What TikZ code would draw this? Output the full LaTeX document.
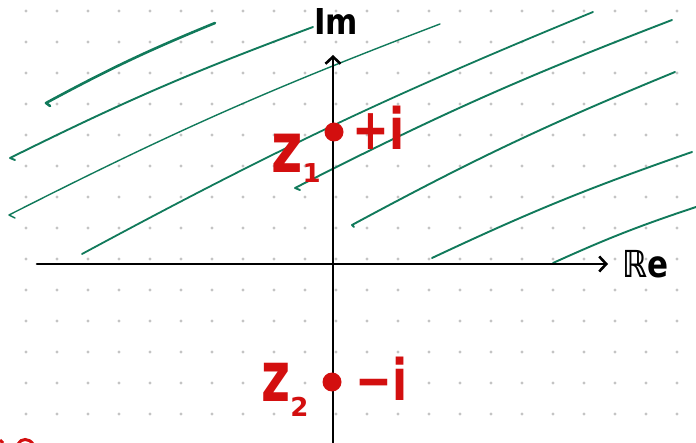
\documentclass[tikz,border=0pt]{standalone}
\usepackage{fontspec}
\setmainfont{DejaVu Sans}
\usetikzlibrary{arrows.meta, positioning}
\definecolor{hatchgreen}{HTML}{117A5B}
\definecolor{pointred}{HTML}{D30F0F}
\definecolor{dotgrey}{HTML}{C4C4C4}

\begin{document}
\begin{tikzpicture}[x=1pt, y=-1pt,
  hatch/.style={hatchgreen, line cap=round, line join=round},
  axis/.style={black, line width=2.6pt, line cap=round,
    -{Straight Barb[length=7pt, width=15pt, line width=2.6pt]}},
  redpt/.style={circle, fill=pointred, inner sep=0pt, minimum size=19pt},
  redlab/.style={anchor=base west, inner sep=0pt, text=pointred,
    font=\fontsize{44}{44}\selectfont\bfseries},
  axislab/.style={anchor=base west, inner sep=0pt,
    font=\fontsize{31}{31}\selectfont\bfseries}]
  \useasboundingbox (0,0) rectangle (696,443);
  \foreach \i in {0,...,21}{%
    \foreach \j in {0,...,13}{%
      \fill[dotgrey] (26+31*\i,11+31*\j) circle (1.6);}}
  \foreach \sx/\sy/\ex/\ey/\hx/\hy/\w in {46/103/215/23/4/3/2.6,
      10/158/313/27/5/2/1.9, 9/215/440/24/6/3/1.4, 82/254/593/12/0/0/1.8,
      295/188/672/20/5/2/1.9, 352/225/675/72/2/2/1.9,
      432/258/692/152/0/0/1.9, 553/263/696/207/0/0/1.9}{%
    \draw[hatch, line width=\w pt] (\sx,\sy) ++(\hx,\hy) -- (\sx,\sy)
      to[bend left=3] (\ex,\ey);}
  \coordinate (xfrom) at (37,264);
  \coordinate (xto) at (608,264);
  \coordinate (yfrom) at (333,443);
  \coordinate (yto) at (333,55);
  \draw[axis] (xfrom) -- (xto);
  \draw[axis] (yfrom) -- (yto);
  \node[axislab] (imlab) at (314,35) {\scalebox{1}[1.15]{Im}};
  \node[axislab] (relab) at (622,278) {\scalebox{1}[1.2]{ℝe}};
  \node[redpt] (zone) at (334,132) {};
  \node[redpt] (ztwo) at (332,382) {};
  \node[redlab, font=\fontsize{54}{54}\selectfont\bfseries] (zonelab) at (271,173)
    {\scalebox{1}[1.3]{z}\raisebox{-10pt}{\fontsize{26}{26}\selectfont 1}};
  \node[redlab] (plusi) at (352,150) {\scalebox{1}[1.3]{+i}};
  \node[redlab, font=\fontsize{50}{50}\selectfont\bfseries] (ztwolab) at (261,402)
    {\scalebox{1}[1.4]{z}\raisebox{-15pt}{\fontsize{26}{26}\selectfont 2}};
  \node[redlab] (minusi) at (355,400) {\scalebox{1}[1.3]{−i}};
  \draw[pointred, line width=3pt, line cap=round]
    (18,444) .. controls (21,438) and (29,438) .. (33,444);
  \draw[pointred, line width=3pt] (0,440) -- (3,443);
\end{tikzpicture}
\end{document}
